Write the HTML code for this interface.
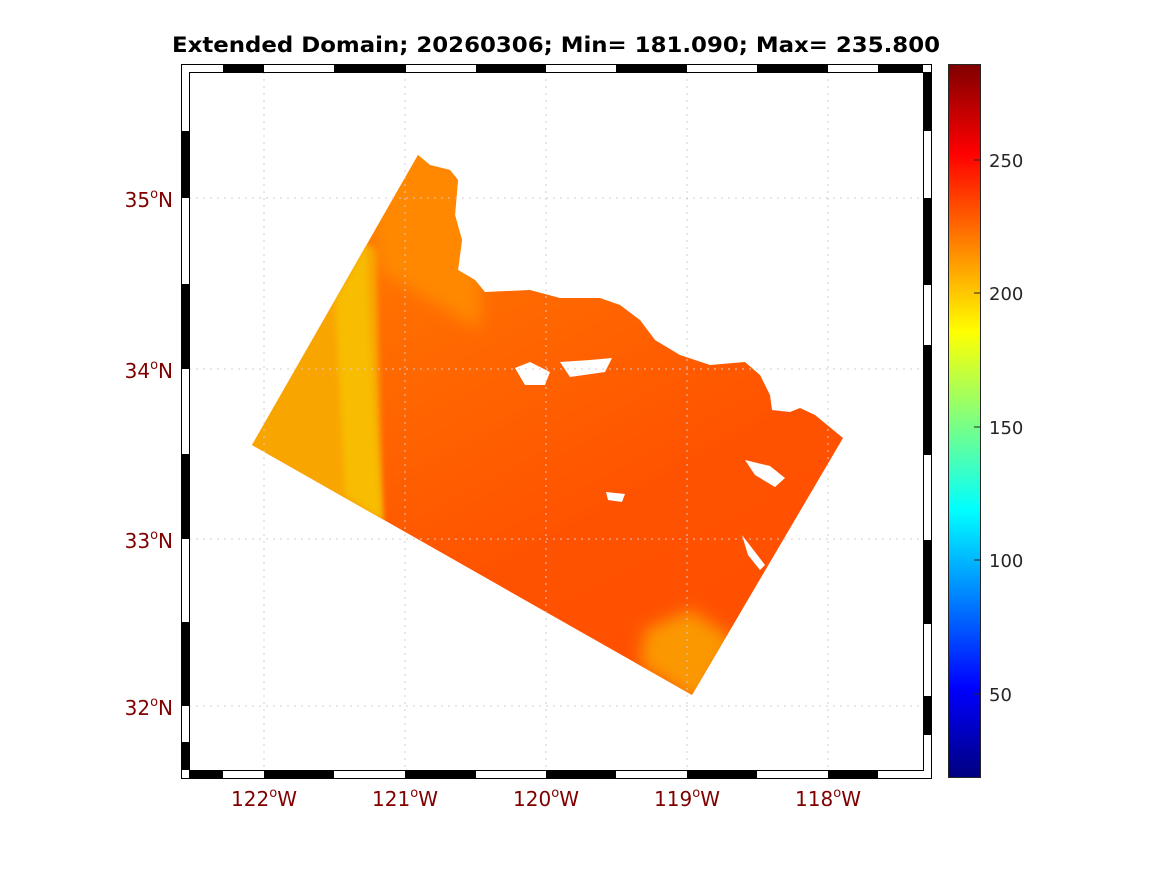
<!DOCTYPE html>
<html><head><meta charset="utf-8"><style>
body{margin:0;background:#fff;}
svg{display:block;font-family:"DejaVu Sans","Liberation Sans",sans-serif;}
</style></head><body>
<svg width="1167" height="875" viewBox="0 0 1167 875">
<defs>
<linearGradient id="jet" x1="0" y1="1" x2="0" y2="0">
<stop offset="0" stop-color="#000080"/>
<stop offset="0.125" stop-color="#0000ff"/>
<stop offset="0.375" stop-color="#00ffff"/>
<stop offset="0.625" stop-color="#ffff00"/>
<stop offset="0.875" stop-color="#ff0000"/>
<stop offset="1" stop-color="#800000"/>
</linearGradient>
<linearGradient id="main" x1="0" y1="0" x2="0.6" y2="1">
<stop offset="0" stop-color="#ff8c00"/>
<stop offset="0.3" stop-color="#ff7000"/>
<stop offset="0.75" stop-color="#ff5200"/>
<stop offset="1" stop-color="#ff5000"/>
</linearGradient>
<filter id="bl" x="-20%" y="-20%" width="140%" height="140%"><feGaussianBlur stdDeviation="8"/></filter>
<filter id="bl2"><feGaussianBlur stdDeviation="3"/></filter>
<clipPath id="dom"><path d="M418,155 L430,165 L450,170 L458,180 L455,215 L462,240 L458,270 L475,280 L485,292 L530,290 L560,298 L600,298 L620,305 L640,320 L655,340 L680,355 L710,365 L745,362 L760,375 L770,395 L772,410 L790,412 L800,408 L815,415 L843,438 L692,695 L252,445 Z"/></clipPath>
</defs>
<text x="556" y="52" text-anchor="middle" font-size="21" font-weight="bold" fill="#000" textLength="768" lengthAdjust="spacingAndGlyphs">Extended Domain; 20260306; Min= 181.090; Max= 235.800</text>

<g clip-path="url(#dom)">
<rect x="240" y="150" width="610" height="550" fill="url(#main)"/>
<path d="M360,140 L480,140 L480,330 L380,270 Z" fill="#ff8800" filter="url(#bl)"/>
<path d="M230,150 L376,250 L383,530 L230,530 Z" fill="#f9a500" filter="url(#bl2)"/>
<path d="M335,300 L366,245 L374,400 L382,520 L345,495 Z" fill="#f8bc00" filter="url(#bl2)"/>
<path d="M645,630 L690,610 L735,640 L700,705 L640,665 Z" fill="#fb9800" filter="url(#bl)"/>
</g>
<g fill="#fff">
<path d="M515,368 L530,362 L550,372 L545,385 L525,385 Z"/>
<path d="M560,362 L590,360 L612,358 L605,372 L570,377 Z"/>
<path d="M745,460 L770,466 L785,478 L775,487 L755,475 Z"/>
<path d="M606,492 L625,494 L622,502 L608,500 Z"/>
<path d="M742,535 L765,565 L760,570 L748,555 Z"/>
</g>

<g stroke="#d8c8cc" stroke-width="1" stroke-dasharray="2,5">
<line x1="264" y1="72" x2="264" y2="770"/><line x1="405" y1="72" x2="405" y2="770"/>
<line x1="546" y1="72" x2="546" y2="770"/><line x1="687" y1="72" x2="687" y2="770"/>
<line x1="828" y1="72" x2="828" y2="770"/>
<line x1="189" y1="198" x2="923" y2="198"/><line x1="189" y1="369" x2="923" y2="369"/>
<line x1="189" y1="539" x2="923" y2="539"/><line x1="189" y1="706" x2="923" y2="706"/>
</g>

<rect x="181.5" y="64.5" width="750" height="714" fill="none" stroke="#000" stroke-width="1"/>
<rect x="189.5" y="72.5" width="734" height="698" fill="none" stroke="#000" stroke-width="1"/>
<g fill="#000">
<rect x="223" y="65" width="41" height="7"/><rect x="334" y="65" width="72" height="7"/>
<rect x="476" y="65" width="70" height="7"/><rect x="616" y="65" width="71" height="7"/>
<rect x="757" y="65" width="71" height="7"/><rect x="878" y="65" width="45" height="7"/>
<rect x="189" y="771" width="34" height="7"/><rect x="264" y="771" width="70" height="7"/>
<rect x="405" y="771" width="71" height="7"/><rect x="546" y="771" width="70" height="7"/>
<rect x="687" y="771" width="70" height="7"/><rect x="828" y="771" width="50" height="7"/>
<rect x="182" y="131" width="7" height="67"/><rect x="182" y="284" width="7" height="85"/>
<rect x="182" y="454" width="7" height="85"/><rect x="182" y="622" width="7" height="84"/>
<rect x="182" y="742" width="7" height="28"/>
<rect x="924" y="72" width="7" height="59"/><rect x="924" y="198" width="7" height="87"/>
<rect x="924" y="345" width="7" height="110"/><rect x="924" y="540" width="7" height="84"/>
<rect x="924" y="696" width="7" height="39"/>
</g>

<g fill="#800000" font-size="20" text-anchor="middle">
<text x="264" y="806">122<tspan font-size="13" dy="-9">o</tspan><tspan dy="9">W</tspan></text>
<text x="405" y="806">121<tspan font-size="13" dy="-9">o</tspan><tspan dy="9">W</tspan></text>
<text x="546" y="806">120<tspan font-size="13" dy="-9">o</tspan><tspan dy="9">W</tspan></text>
<text x="687" y="806">119<tspan font-size="13" dy="-9">o</tspan><tspan dy="9">W</tspan></text>
<text x="828" y="806">118<tspan font-size="13" dy="-9">o</tspan><tspan dy="9">W</tspan></text>
</g>
<g fill="#800000" font-size="20" text-anchor="end">
<text x="173" y="207">35<tspan font-size="13" dy="-9">o</tspan><tspan dy="9">N</tspan></text>
<text x="173" y="378">34<tspan font-size="13" dy="-9">o</tspan><tspan dy="9">N</tspan></text>
<text x="173" y="548">33<tspan font-size="13" dy="-9">o</tspan><tspan dy="9">N</tspan></text>
<text x="173" y="715">32<tspan font-size="13" dy="-9">o</tspan><tspan dy="9">N</tspan></text>
</g>

<rect x="948.5" y="64.5" width="32" height="713" fill="url(#jet)" stroke="#262626" stroke-width="1"/>
<g stroke="#262626"><line x1="974" y1="160" x2="981" y2="160"/><line x1="974" y1="293" x2="981" y2="293"/><line x1="974" y1="427" x2="981" y2="427"/><line x1="974" y1="560" x2="981" y2="560"/><line x1="974" y1="694" x2="981" y2="694"/></g>
<g fill="#262626" font-size="18">
<text x="989" y="167">250</text><text x="989" y="300">200</text><text x="989" y="434">150</text><text x="989" y="567">100</text><text x="989" y="701">50</text>
</g>
</svg>
</body></html>
